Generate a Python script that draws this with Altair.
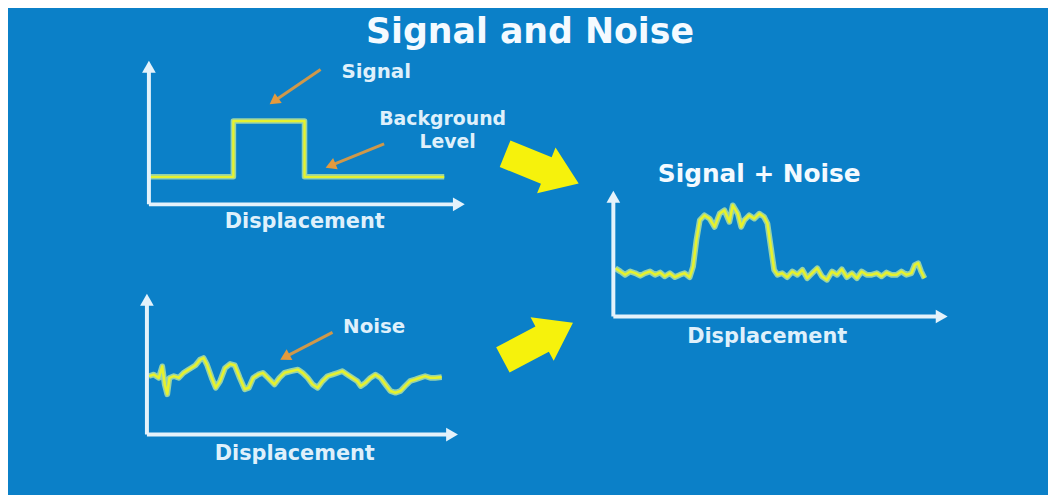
import altair as alt
import pandas as pd

# ---------------- data (arbitrary amplitude units) ----------------
signal_x = [0, 26.6, 26.6, 49.0, 49.0, 93.0]
signal_y = [1.9, 1.9, 5.75, 5.75, 1.9, 1.9]

noise_x = [0.6, 2.2, 3.8, 4.9, 5.7, 6.5, 7.2, 8.6, 10.2, 11.7,
           13.3, 15.5, 17.0, 18.1, 19.2, 20.7, 22.0, 23.4, 25.0, 26.6,
           28.1, 29.7, 31.3, 32.6, 34.0, 35.6, 37.1, 38.7, 40.8, 42.4,
           44.0, 46.1, 48.3, 49.8, 51.4, 53.0, 54.6, 56.2, 57.8, 59.4,
           61.0, 62.5, 64.1, 65.7, 67.3, 68.4, 69.9, 71.5, 73.1, 74.7,
           76.3, 77.9, 79.5, 81.1, 82.6, 84.2, 85.8, 87.4, 89.0, 90.6,
           92.2, 94.3]
noise_y = [4.12, 4.23, 4.0, 4.81, 3.53, 2.84, 4.0, 4.12, 4.0, 4.35,
           4.58, 4.88, 5.28, 5.40, 4.93, 4.0, 3.30, 3.77, 4.70, 4.98,
           4.88, 4.0, 3.19, 3.30, 4.0, 4.23, 4.35, 4.0, 3.53, 4.0,
           4.35, 4.47, 4.58, 4.35, 4.0, 3.53, 3.30, 3.77, 4.12, 4.23,
           4.35, 4.47, 4.23, 4.0, 3.77, 3.42, 3.65, 4.0, 4.23, 4.0,
           3.53, 3.07, 2.95, 3.07, 3.42, 3.77, 3.88, 4.0, 4.12, 4.0,
           4.0, 4.05]

sn_x = [0.6, 2.1, 3.5, 5.0, 6.5, 8.0, 9.4, 10.9, 12.4, 13.9,
        15.3, 16.8, 18.3, 19.8, 21.2, 22.7, 23.7, 24.7, 25.7, 27.1,
        28.6, 30.1, 31.6, 33.0, 34.5, 35.5, 37.0, 38.0, 38.9, 40.4,
        41.9, 43.4, 44.8, 45.8, 46.8, 47.8, 48.8, 50.2, 51.7, 53.2,
        54.7, 56.2, 57.6, 59.1, 60.6, 62.0, 63.5, 65.0, 66.5, 67.9,
        69.4, 70.9, 72.4, 73.8, 75.3, 76.8, 78.3, 79.7, 81.2, 82.7,
        84.2, 85.6, 87.1, 88.6, 89.6, 90.6, 91.5, 92.5]
sn_y = [3.83, 3.57, 3.31, 3.57, 3.44, 3.23, 3.44, 3.57, 3.31, 3.49,
        3.18, 3.44, 3.12, 3.31, 3.44, 3.12, 3.96, 6.06, 7.64, 8.03,
        7.77, 7.11, 8.16, 8.43, 7.51, 8.82, 8.16, 7.11, 7.64, 8.03,
        7.77, 8.16, 7.90, 7.38, 5.54, 3.70, 3.31, 3.44, 3.12, 3.57,
        3.31, 3.70, 3.04, 3.44, 3.83, 3.18, 2.91, 3.57, 3.31, 3.75,
        3.12, 3.44, 3.04, 3.57, 3.31, 3.31, 3.44, 3.18, 3.49, 3.31,
        3.31, 3.57, 3.31, 3.44, 4.09, 4.23, 3.57, 3.04]

# ---------------- styles ----------------
BG = "#0b80c8"
AXIS_C = "#e4f2fb"
TXT_C = "#dff0fb"
TITLE_C = "#f4faff"
GLOW_C = "#c6eea0"
LINE_C = "#e6f22e"
ORANGE = "#e49a3c"
YELLOW = "#f6f20c"
FONT = "DejaVu Sans"
W, H = 1048, 487

one = pd.DataFrame({"k": [0]})


def frame(df_x, df_y, xr, yr, line_w=2.6):
    xs = alt.Scale(domain=[0, 100], range=xr, nice=False, zero=False)
    ys = alt.Scale(domain=[0, 10], range=yr, nice=False, zero=False)
    df = pd.DataFrame({"x": df_x, "y": df_y, "i": list(range(len(df_x)))})
    enc = dict(x=alt.X("x:Q", scale=xs, axis=None),
               y=alt.Y("y:Q", scale=ys, axis=None),
               order=alt.Order("i:Q"))
    glow = alt.Chart(df).mark_line(color=GLOW_C, strokeWidth=line_w + 3.2,
                                   opacity=0.75, strokeJoin="round").encode(**enc)
    core = alt.Chart(df).mark_line(color=LINE_C, strokeWidth=line_w,
                                   strokeJoin="round").encode(**enc)
    xaxis = alt.Chart(one).mark_rule(color=AXIS_C, strokeWidth=4).encode(
        x=alt.XDatum(0, scale=xs, axis=None), x2=alt.X2Datum(97),
        y=alt.YDatum(0, scale=ys, axis=None))
    yaxis = alt.Chart(one).mark_rule(color=AXIS_C, strokeWidth=4).encode(
        x=alt.XDatum(0, scale=xs, axis=None),
        y=alt.YDatum(0, scale=ys, axis=None), y2=alt.Y2Datum(9.4))
    xtip = alt.Chart(one).mark_point(shape="triangle-up", angle=90, size=190,
                                     filled=True, opacity=1, color=AXIS_C).encode(
        x=alt.XDatum(97.6, scale=xs, axis=None), y=alt.YDatum(0, scale=ys, axis=None))
    ytip = alt.Chart(one).mark_point(shape="triangle-up", angle=0, size=190,
                                     filled=True, opacity=1, color=AXIS_C).encode(
        x=alt.XDatum(0, scale=xs, axis=None), y=alt.YDatum(9.5, scale=ys, axis=None))
    return alt.layer(glow, core, xaxis, yaxis, xtip, ytip)


def label(text, x, y, size, color=TXT_C, weight="bold"):
    return alt.Chart(one).mark_text(
        text=text, font=FONT, fontSize=size, fontWeight=weight, color=color,
        align="center", baseline="middle").encode(x=alt.value(x), y=alt.value(y))


def orange_arrow(x1, y1, x2, y2, ang):
    shaft = alt.Chart(one).mark_rule(color=ORANGE, strokeWidth=3, opacity=0.9).encode(
        x=alt.value(x1), y=alt.value(y1), x2=alt.value(x2), y2=alt.value(y2))
    head = alt.Chart(one).mark_point(shape="triangle-up", angle=ang, size=150,
                                     filled=True, opacity=1, color=ORANGE).encode(
        x=alt.value(x2), y=alt.value(y2))
    return alt.layer(shaft, head)


BLOCK = "M -1 -0.36 L 0.12 -0.36 L 0.12 -0.62 L 1 0 L 0.12 0.62 L 0.12 0.36 L -1 0.36 Z"


def block_arrow(x, y, ang):
    return alt.Chart(one).mark_point(shape=BLOCK, angle=ang, size=6400, filled=True,
                                     opacity=1, color=YELLOW).encode(
        x=alt.value(x), y=alt.value(y))


panel_signal = frame(signal_x, signal_y, [142, 462], [196, 50], line_w=2.4)
panel_noise = frame(noise_x, noise_y, [140, 455], [428, 285])
panel_sn = frame(sn_x, sn_y, [610, 949], [309, 182])

layers = [
    panel_signal, panel_noise, panel_sn,
    label("Signal and Noise", 526, 22, 35, color=TITLE_C),
    label("Signal", 371, 63, 20),
    label("Background", 438, 110, 19),
    label("Level", 443, 133, 19),
    label("Displacement", 299, 214, 21),
    label("Noise", 369, 320, 20),
    label("Displacement", 289, 448, 21),
    label("Signal + Noise", 757, 165, 25, color=TITLE_C),
    label("Displacement", 765, 330, 21),
    orange_arrow(315, 60, 268, 92, 235),
    orange_arrow(379, 135, 325, 157, 248),
    orange_arrow(327, 325, 279, 350, 242),
    block_arrow(538, 160, 22),
    block_arrow(534, 334, 332),
]

chart = alt.layer(*layers).resolve_scale(x="independent", y="independent").properties(
    width=W, height=H, background=BG, padding=0,
    autosize=alt.AutoSizeParams(type="none"),
).configure_view(stroke=None)

chart.save("out.html", embed_options={"renderer": "svg", "actions": False})
